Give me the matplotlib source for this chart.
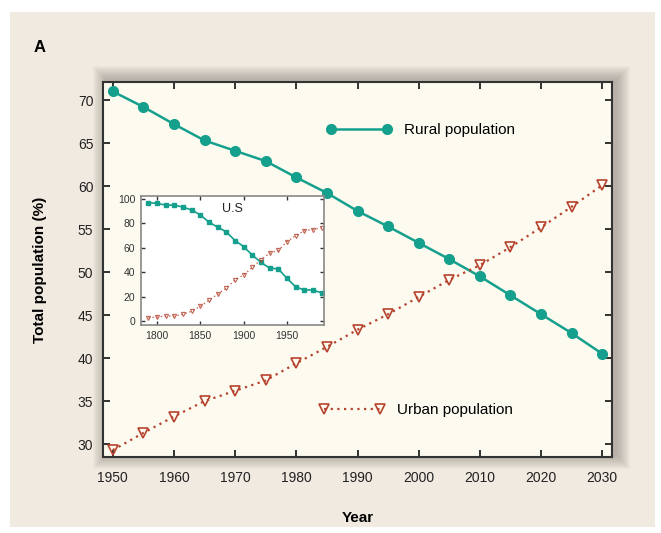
import matplotlib
matplotlib.use("Agg")
import matplotlib.pyplot as plt
from matplotlib.patches import Rectangle
from matplotlib.lines import Line2D

plt.rcParams['font.family'] = ['Liberation Sans', 'DejaVu Sans']

# ---- data ----
years = [1950, 1955, 1960, 1965, 1970, 1975, 1980, 1985, 1990, 1995,
         2000, 2005, 2010, 2015, 2020, 2025, 2030]
rural = [71.0, 69.2, 67.2, 65.3, 64.1, 62.9, 61.0, 59.2, 57.1, 55.3,
         53.4, 51.5, 49.5, 47.3, 45.1, 42.9, 40.5]
urban = [29.3, 31.3, 33.2, 35.0, 36.2, 37.4, 39.4, 41.3, 43.3, 45.1,
         47.1, 49.1, 50.8, 52.9, 55.2, 57.6, 60.1]

us_years = [1790, 1800, 1810, 1820, 1830, 1840, 1850, 1860, 1870, 1880, 1890,
            1900, 1910, 1920, 1930, 1940, 1950, 1960, 1970, 1980, 1990]
us_rural = [97, 96.5, 95, 95, 93.4, 91, 87, 81, 77, 73, 66,
            61, 54, 48, 43.4, 42.6, 35, 28, 25.4, 25.4, 23]
us_urban = [2.5, 3.3, 4, 4, 5.5, 8, 12, 17, 22, 27, 33.6,
            37.7, 44, 50, 55.7, 58, 65, 70, 74, 75, 76.6]

main_xticks = [1950, 1960, 1970, 1980, 1990, 2000, 2010, 2020, 2030]
main_yticks = [30, 35, 40, 45, 50, 55, 60, 65, 70]
inset_xticks = [1800, 1850, 1900, 1950]
inset_yticks = [0, 20, 40, 60, 80, 100]

TEAL = '#14a08c'
RED = '#b5432e'

W, H = 661, 533
fig = plt.figure(figsize=(W / 100, H / 100), dpi=100)
fig.patch.set_facecolor('white')

def fx(px):
    return px / W

def fy(py):
    return 1 - py / H

# beige panel
fig.patches.append(Rectangle((fx(10), fy(527)), fx(645), 515 / H,
                             transform=fig.transFigure, facecolor='#f1eae1',
                             edgecolor='none', zorder=-3))

# axes geometry (pixels)
L, R, T, B = 103, 612, 82, 457
# soft shadow
for i in range(14):
    d = 14 - i
    fig.patches.append(Rectangle((fx(L - d + 4), fy(B + d - 2)),
                                 fx(R - L + 2 * d), (B - T + 2 * d) / H,
                                 transform=fig.transFigure, facecolor='#6e6660',
                                 edgecolor='none', alpha=0.035, zorder=-2))

ax = fig.add_axes([fx(L), fy(B), fx(R - L), (B - T) / H])
ax.set_facecolor('#fdfaf0')

ax.plot(years, rural, color=TEAL, lw=1.8, marker='o', ms=7,
        mfc=TEAL, mec=TEAL, zorder=3)
ax.plot(years, urban, color=RED, lw=1.6, ls=(0, (1, 2)), marker='v', ms=6.5,
        mfc='none', mec=RED, mew=1.2, zorder=3)

ax.set_xlim(1948.4, 2031.6)
ax.set_ylim(28.5, 72.1)
ax.set_xticks(main_xticks)
ax.set_yticks(main_yticks)
ax.tick_params(direction='in', length=5, width=1.3, top=True, right=True,
               labelsize=10, colors='#222222')
ax.tick_params(axis='x', pad=10)
ax.tick_params(axis='y', pad=7)
for s in ax.spines.values():
    s.set_linewidth(1.5)
    s.set_color('#333333')

ax.set_xlabel('Year', fontsize=11, fontweight='bold', labelpad=19)
ax.set_ylabel('Total population (%)', fontsize=11, fontweight='bold', labelpad=22)

# legends
h_r = Line2D([], [], color=TEAL, lw=1.8, marker='o', ms=7, mfc=TEAL, mec=TEAL)
h_u = Line2D([], [], color=RED, lw=1.6, ls=(0, (1, 2)), marker='v', ms=6.5,
             mfc='none', mec=RED, mew=1.2)
leg1 = ax.legend([h_r], ['Rural population'], loc='center left',
                 bbox_to_anchor=((326 - L) / (R - L), (B - 130) / (B - T)),
                 frameon=False, numpoints=2, handlelength=4.3, fontsize=11,
                 handletextpad=0.8, borderaxespad=0, borderpad=0)
ax.add_artist(leg1)
ax.legend([h_u], ['Urban population'], loc='center left',
          bbox_to_anchor=((319 - L) / (R - L), (B - 410) / (B - T)),
          frameon=False, numpoints=2, handlelength=4.3, fontsize=11,
          handletextpad=0.8, borderaxespad=0, borderpad=0)

fig.text(fx(40), fy(47), 'A', fontsize=12, fontweight='bold', va='center', ha='center')

# inset
IL, IR, IT, IB = 140.7, 324, 196, 325
ins = fig.add_axes([fx(IL), fy(IB), fx(IR - IL), (IB - IT) / H])
ins.set_facecolor('white')
ins.plot(us_years, us_rural, color=TEAL, lw=1.2, marker='s', ms=3.5,
         mfc=TEAL, mec=TEAL)
ins.plot(us_years, us_urban, color=RED, lw=1.0, ls=(0, (1, 2)), marker='v', ms=3,
         mfc='none', mec=RED, mew=0.8, alpha=0.8)
ins.set_xlim(1781.2, 1992.7)
ins.set_ylim(-3.3, 102.5)
ins.set_xticks(inset_xticks)
ins.set_yticks(inset_yticks)
ins.tick_params(direction='in', length=3, width=1, labelsize=7.5, colors='#333333',
                top=True, right=True, pad=4)
for s in ins.spines.values():
    s.set_linewidth(1.2)
    s.set_color('#888888')
ins.text(0.5, 0.9, 'U.S', transform=ins.transAxes, fontsize=9, ha='center', va='center',
         color='#222222')

fig.savefig('out.png', dpi=100)
